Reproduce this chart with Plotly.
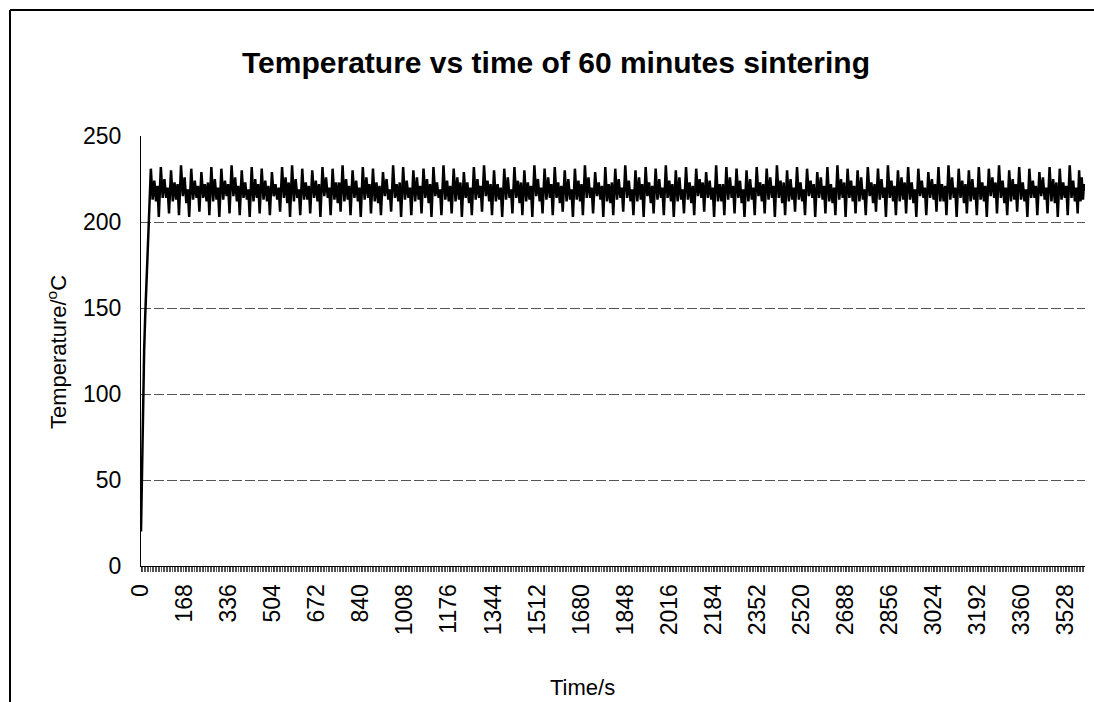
import plotly.graph_objects as go

# ---------------- data ----------------
ramp_time = [0, 2, 4, 6, 8, 12, 16, 20, 24, 28]
ramp_temp = [20, 40, 60, 80, 100, 125, 145, 162, 178, 192]

cycle_start = [
    30, 68, 107, 145, 184, 223, 261, 299, 338, 377,
    415, 453, 492, 531, 569, 608, 646, 685, 724, 762,
    800, 839, 878, 916, 955, 993, 1032, 1071, 1109, 1147,
    1186, 1225, 1263, 1302, 1340, 1379, 1418, 1456, 1494, 1533,
    1572, 1610, 1649, 1687, 1726, 1765, 1803, 1841, 1880, 1919,
    1957, 1996, 2034, 2073, 2112, 2150, 2188, 2227, 2266, 2304,
    2343, 2381, 2420, 2459, 2497, 2535, 2574, 2613, 2651, 2690,
    2728, 2767, 2806, 2844, 2882, 2921, 2960, 2998, 3037, 3075,
    3114, 3153, 3191, 3229, 3268, 3307, 3345, 3384, 3422, 3461,
    3500, 3538, 3576,
]
end_time = 3604
end_temp = 218

trough_temp = [
    204, 203, 205, 204, 203, 206, 204, 203, 205, 204,
    203, 205, 204, 206, 203, 204, 205, 203, 204, 206,
    204, 203, 205, 204, 206, 203, 204, 205, 203, 204,
    205, 203, 204, 206, 204, 203, 205, 204, 203, 205,
    204, 206, 203, 204, 205, 203, 204, 206, 204, 203,
    205, 204, 203, 205, 204, 206, 203, 204, 205, 203,
    204, 205, 203, 204, 206, 204, 203, 205, 204, 203,
    205, 204, 206, 203, 204, 205, 203, 204, 206, 204,
    203, 205, 204, 203, 205, 204, 206, 203, 204, 205,
    203, 204, 205,
]
peak_temp = [
    231, 232, 230, 233, 231, 229, 232, 231, 233, 230,
    232, 231, 229, 232, 233, 231, 230, 232, 231, 233,
    230, 232, 231, 229, 233, 232, 230, 231, 232, 233,
    231, 229, 232, 233, 230, 231, 232, 230, 233, 231,
    232, 230, 231, 233, 229, 232, 231, 233, 230, 232,
    231, 233, 230, 232, 231, 229, 233, 232, 231, 230,
    232, 231, 233, 230, 232, 231, 229, 232, 233, 231,
    230, 232, 231, 233, 230, 232, 231, 229, 232, 233,
    231, 230, 232, 231, 233, 230, 232, 231, 229, 232,
    231, 233, 230,
]
fall_temp = [
    213, 214, 212, 215, 213, 214, 212, 213, 215, 214,
    212, 213, 215, 214, 212, 213, 214, 215, 213, 212,
    214, 213, 212, 215, 214, 213, 212, 214, 215, 213,
    212, 214, 213, 215, 212, 213, 214, 212, 215, 213,
    214, 212, 213, 214, 215, 212, 213, 214, 212, 215,
    213, 214, 212, 213, 215, 214, 212, 213, 214, 212,
    215, 213, 214, 212, 213, 215, 214, 212, 213, 214,
    212, 215, 213, 214, 212, 213, 215, 214, 212, 213,
    214, 212, 213, 215, 214, 212, 213, 214, 215, 212,
    213, 214, 212,
]
high_temp = [
    224, 225, 223, 226, 224, 222, 225, 224, 226, 223,
    225, 224, 222, 226, 225, 223, 224, 226, 223, 225,
    224, 226, 223, 225, 222, 224, 226, 225, 223, 224,
    226, 223, 225, 224, 222, 226, 224, 223, 225, 226,
    223, 225, 224, 226, 223, 222, 225, 224, 226, 223,
    225, 224, 226, 223, 225, 224, 222, 226, 224, 225,
    223, 226, 224, 225, 223, 224, 226, 222, 225, 224,
    226, 223, 225, 224, 226, 223, 224, 225, 222, 226,
    224, 225, 223, 226, 224, 225, 223, 224, 226, 225,
    223, 224, 226,
]
low_temp = [
    212, 214, 213, 211, 214, 212, 213, 215, 212, 213,
    214, 212, 213, 211, 214, 213, 212, 214, 211, 213,
    212, 214, 211, 213, 212, 214, 213, 211, 214, 212,
    213, 211, 214, 212, 213, 214, 211, 213, 212, 214,
    211, 213, 212, 214, 213, 211, 214, 212, 213, 211,
    214, 212, 213, 211, 214, 213, 212, 214, 211, 213,
    212, 214, 211, 213, 212, 214, 213, 211, 214, 212,
    213, 211, 214, 212, 213, 211, 214, 213, 212, 214,
    211, 213, 212, 214, 211, 213, 212, 214, 213, 211,
    214, 212, 213,
]
high2_temp = [
    221, 220, 222, 219, 221, 223, 220, 222, 221, 219,
    222, 221, 220, 223, 219, 221, 222, 220, 223, 221,
    220, 222, 221, 219, 223, 220, 221, 222, 219, 221,
    223, 220, 221, 222, 220, 219, 223, 221, 220, 222,
    221, 219, 222, 220, 221, 223, 220, 219, 222, 221,
    220, 222, 219, 221, 223, 220, 222, 221, 219, 220,
    222, 221, 223, 220, 219, 222, 221, 220, 223, 221,
    219, 222, 220, 221, 223, 219, 220, 222, 221, 220,
    222, 220, 221, 223, 220, 222, 219, 221, 220, 223,
    221, 220, 222,
]
# phase (fraction of a cycle) at which each reading within a cycle is taken
cycle_phase = [0.0, 0.2, 0.38, 0.55, 0.72, 0.86]

x_tick_values = [0, 168, 336, 504, 672, 840, 1008, 1176, 1344, 1512, 1680,
                 1848, 2016, 2184, 2352, 2520, 2688, 2856, 3024, 3192, 3360, 3528]
y_tick_values = [0, 50, 100, 150, 200, 250]

# ---------------- build series ----------------
times = list(ramp_time)
temps = list(ramp_temp)
starts_next = cycle_start[1:] + [end_time]
for s, n, tr, pk, fa, hi, lo, h2 in zip(cycle_start, starts_next, trough_temp, peak_temp,
                                         fall_temp, high_temp, low_temp, high2_temp):
    vals = [tr, pk, fa, hi, lo, h2]
    for ph, v in zip(cycle_phase, vals):
        times.append(s + ph * (n - s))
        temps.append(v)
times.append(end_time)
temps.append(end_temp)

FONT = "Liberation Sans, Arial, sans-serif"

fig = go.Figure()
fig.add_trace(go.Scatter(x=times, y=temps, mode="lines",
                         line=dict(color="black", width=2.5),
                         showlegend=False, hoverinfo="skip"))

# pixel helpers for the paper frame: plot area x 141..1085, y 136..566
L, R, T, B = 141, 1085, 136, 566
def px(xp):
    return (xp - L) / (R - L)
def py(yp):
    return (B - yp) / (B - T)

fig.update_layout(
    width=1094, height=702, autosize=False,
    margin=dict(l=L, r=1094 - R, t=T, b=702 - B),
    paper_bgcolor="white", plot_bgcolor="white",
    font=dict(family=FONT, color="black", size=23),
    title=dict(text="<b>Temperature vs time of 60 minutes sintering</b>",
               font=dict(size=30, family=FONT, color="black"),
               x=556 / 1094, xanchor="center", xref="container",
               y=1 - 62 / 702, yanchor="middle", yref="container"),
    xaxis=dict(range=[0, end_time], tickmode="array", tickvals=x_tick_values,
               ticktext=[str(v) for v in x_tick_values], tickangle=-90,
               ticks="outside", ticklen=5, tickcolor="#333", tickwidth=1,
               minor=dict(ticks="outside", ticklen=5, dtick=6, tick0=0,
                          tickcolor="#555", tickwidth=1),
               showline=True, linecolor="black", linewidth=1,
               showgrid=False, zeroline=False,
               tickfont=dict(size=23, family=FONT, color="black"),
               ticklabelstandoff=3),
    yaxis=dict(range=[0, 250], tickmode="array", tickvals=y_tick_values,
               showline=True, linecolor="black", linewidth=1,
               showgrid=True, gridcolor="#555", gridwidth=1, griddash="10px,3px",
               zeroline=False, ticks="",
               tickfont=dict(size=23, family=FONT, color="black"),
               ticklabelstandoff=14),
    annotations=[
        dict(text="Temperature/<sup>o</sup>C", textangle=-90, x=px(57), y=py(352),
             xref="paper", yref="paper", xanchor="center", yanchor="middle",
             showarrow=False, font=dict(size=22, family=FONT, color="black")),
        dict(text="Time/s", x=px(582), y=py(687), xref="paper", yref="paper",
             xanchor="center", yanchor="middle", showarrow=False,
             font=dict(size=22, family=FONT, color="black")),
    ],
    shapes=[
        dict(type="line", xref="paper", yref="paper", x0=px(10), x1=px(10),
             y0=py(10), y1=py(702), line=dict(color="black", width=2)),
        dict(type="line", xref="paper", yref="paper", x0=px(10), x1=px(1094),
             y0=py(10), y1=py(10), line=dict(color="black", width=2)),
    ],
)

fig.write_html("out.html", config={"displayModeBar": False},
               post_script="document.body.style.margin='0px';document.body.style.padding='0px';")
